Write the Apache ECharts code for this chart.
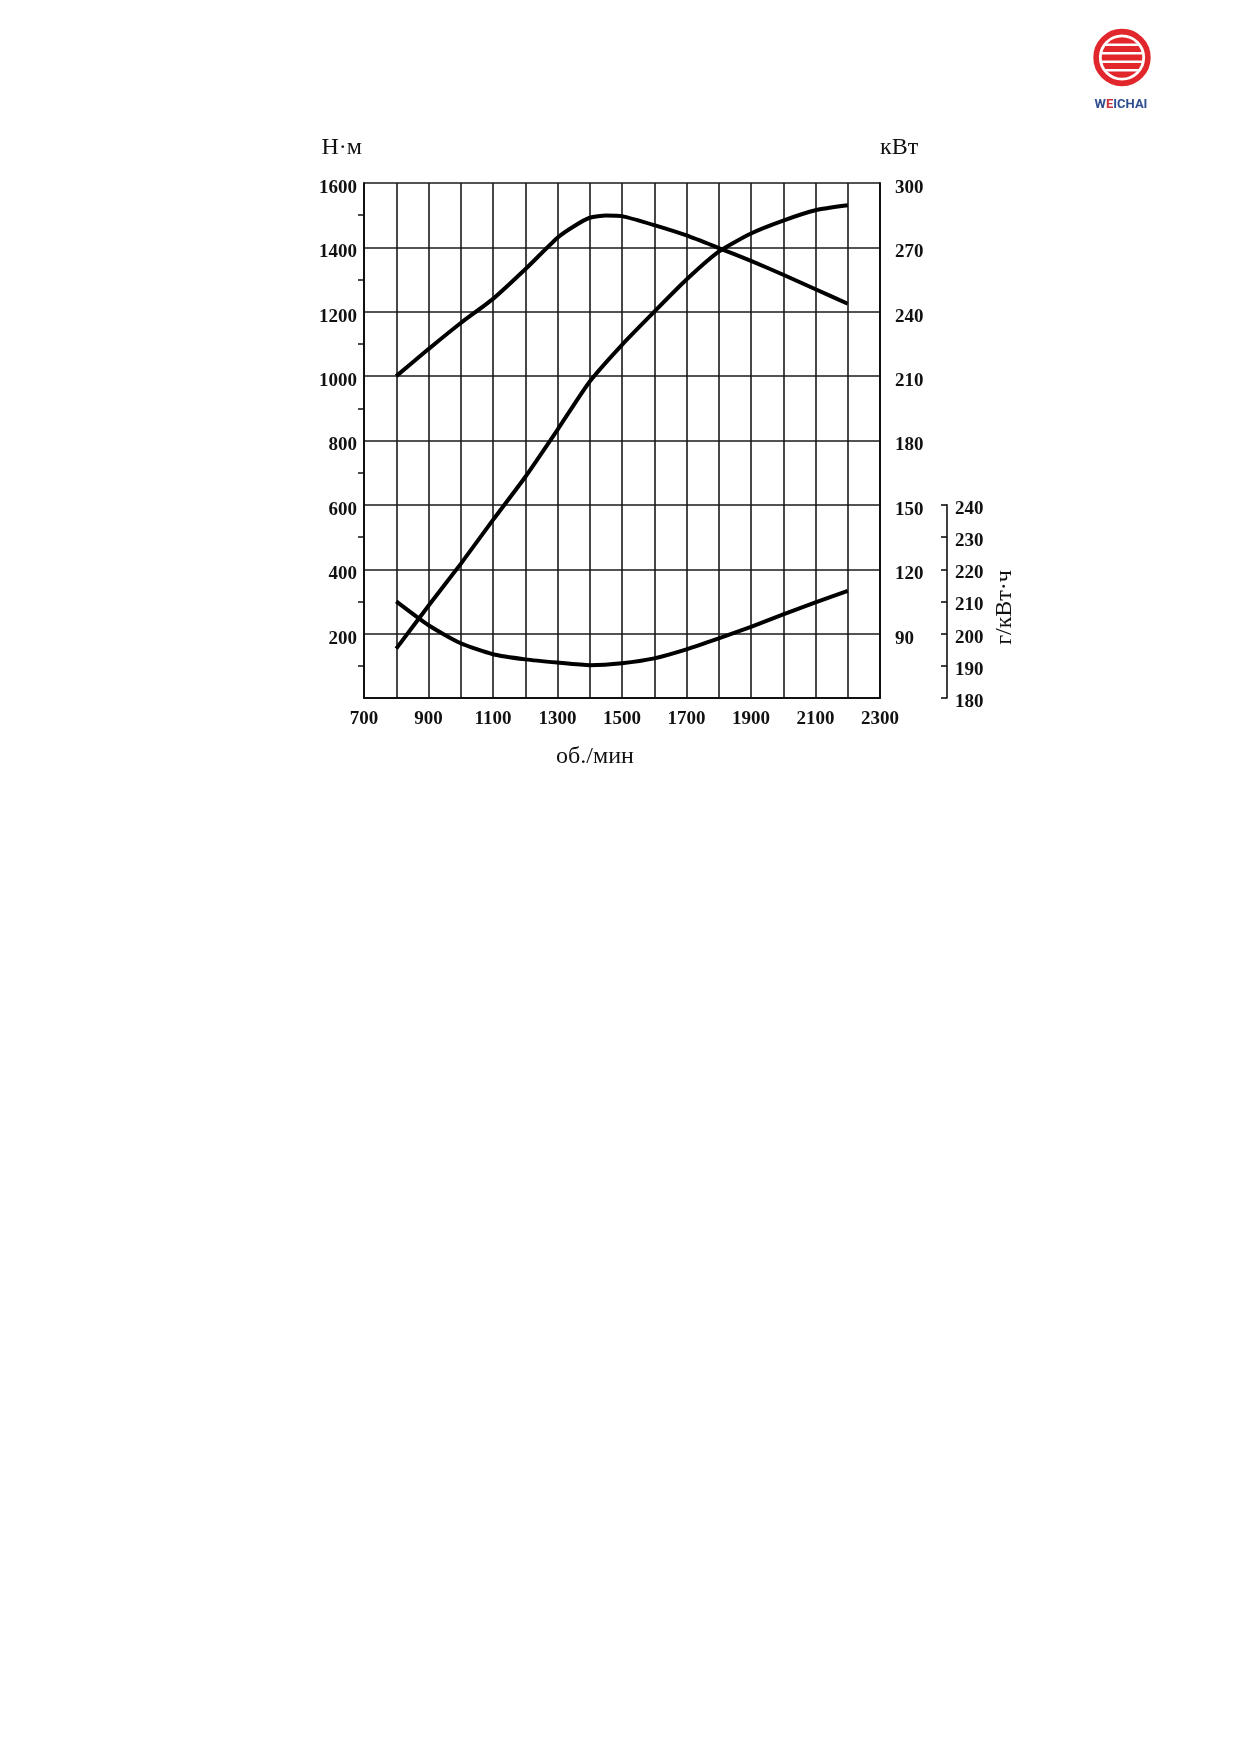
<!DOCTYPE html>
<html>
<head>
<meta charset="utf-8">
<script src="https://cdn.jsdelivr.net/npm/echarts@6/dist/echarts.min.js"></script>
<style>html,body{margin:0;padding:0;background:#fff}#c{width:1239px;height:1752px}</style>
</head>
<body>
<div id="c"></div>
<script>
// ---- data ----
const rpm = [800, 900, 1000, 1100, 1200, 1300, 1400, 1500, 1600, 1700, 1800, 1900, 2000, 2100, 2200];
const torqueRpm = [800, 900, 1000, 1100, 1200, 1300, 1350, 1400, 1450, 1500, 1600, 1700, 1800, 1900, 2000, 2100, 2200];
const torqueNm = [1000, 1084, 1165, 1240, 1332, 1430, 1465, 1492, 1499, 1497, 1469, 1437, 1398, 1358, 1315, 1270, 1225];
const powerKw = [83, 103, 122.5, 143, 163, 185, 207.5, 224.6, 240, 255, 268, 276.5, 282.5, 287.3, 289.6];
const bsfc = [210, 202.6, 197, 193.6, 192, 191, 190.2, 190.8, 192.3, 195.1, 198.5, 202.1, 206, 209.7, 213.3];

const xTickLabels = [700, 900, 1100, 1300, 1500, 1700, 1900, 2100, 2300];
const torqueTickLabels = [200, 400, 600, 800, 1000, 1200, 1400, 1600];
const powerTickLabels = [90, 120, 150, 180, 210, 240, 270, 300];
const bsfcTickLabels = [180, 190, 200, 210, 220, 230, 240];

const unitTorque = 'Н·м';
const unitPower = 'кВт';
const unitSpeed = 'об./мин';
const unitBsfc = 'г/кВт·ч';

// ---- chart ----
const chart = echarts.init(document.getElementById('c'), null, {renderer: 'canvas'});
const font = "'Liberation Serif', 'Times New Roman', serif";
const ink = '#111';
const lbl = {fontFamily: font, fontWeight: 'bold', fontSize: 19, color: ink};
const yLbl = Object.assign({}, lbl, {verticalAlign: 'top', lineHeight: 10});
const gridLine = {color: '#1a1a1a', width: 1.6};
const curve = {color: '#000', width: 4};
const nameStyle = {fontFamily: font, fontSize: 24, color: ink};

const red = '#e1262c';
const cx = 1122, cy = 57.5;
const stripes = [-12.8, -4.3, 4.3, 12.8].map(dy => ({
  type: 'rect', shape: {x: cx - 21, y: cy + dy - 1.3, width: 42, height: 2.6}, style: {fill: '#fff'}
}));

const option = {
  animation: false,
  backgroundColor: '#fff',
  grid: [
    {left: 364, right: 359, top: 183, bottom: 1054},
    {left: 364, right: 359, top: 504.9, bottom: 1054}
  ],
  xAxis: [
    {
      gridIndex: 0, type: 'value', min: 700, max: 2300, interval: 100,
      axisLine: {show: true, onZero: false, lineStyle: {color: ink, width: 2}},
      axisTick: {show: false},
      splitLine: {show: true, lineStyle: gridLine},
      axisLabel: Object.assign({}, lbl, {margin: 12, formatter: v => xTickLabels.includes(v) ? String(v) : ''}),
      name: unitSpeed, nameLocation: 'middle', nameGap: 47,
      nameTextStyle: Object.assign({}, nameStyle, {padding: [0, 54, 0, 0]})
    },
    {gridIndex: 1, type: 'value', min: 700, max: 2300, show: false}
  ],
  yAxis: [
    {
      gridIndex: 0, type: 'value', min: 0, max: 1600, interval: 200, position: 'left',
      axisLine: {show: true, onZero: false, lineStyle: {color: ink, width: 2}},
      axisTick: {show: false},
      minorTick: {show: true, splitNumber: 2, length: 6, lineStyle: {color: ink, width: 1.5}},
      splitLine: {show: true, lineStyle: gridLine},
      axisLabel: Object.assign({}, yLbl, {margin: 7, formatter: v => torqueTickLabels.includes(v) ? String(v) : ''}),
      name: unitTorque, nameLocation: 'end', nameGap: 23,
      nameTextStyle: Object.assign({}, nameStyle, {align: 'right', padding: [0, 2, 0, 0]})
    },
    {
      gridIndex: 0, type: 'value', min: 60, max: 300, interval: 30, position: 'right',
      axisLine: {show: true, onZero: false, lineStyle: {color: ink, width: 2}},
      axisTick: {show: false},
      splitLine: {show: false},
      axisLabel: Object.assign({}, yLbl, {margin: 15, formatter: v => powerTickLabels.includes(v) ? String(v) : ''}),
      name: unitPower, nameLocation: 'end', nameGap: 23,
      nameTextStyle: Object.assign({}, nameStyle, {align: 'left'})
    },
    {
      gridIndex: 1, type: 'value', min: 180, max: 240, interval: 10, position: 'right', offset: 67,
      axisLine: {show: true, onZero: false, lineStyle: {color: ink, width: 1.6}},
      axisTick: {show: true, inside: true, length: 6, lineStyle: {color: ink, width: 1.6}},
      splitLine: {show: false},
      axisLabel: Object.assign({}, yLbl, {margin: 8, lineHeight: 8, formatter: v => bsfcTickLabels.includes(v) ? String(v) : ''}),
      name: unitBsfc, nameLocation: 'middle', nameRotate: 90, nameGap: 46,
      nameTextStyle: Object.assign({}, nameStyle, {padding: [0, 12, 0, 0]})
    }
  ],
  series: [
    {type: 'line', xAxisIndex: 0, yAxisIndex: 0, showSymbol: false, smooth: 0.2,
     lineStyle: curve, data: torqueRpm.map((r, i) => [r, torqueNm[i]])},
    {type: 'line', xAxisIndex: 0, yAxisIndex: 1, showSymbol: false, smooth: 0.2,
     lineStyle: curve, data: rpm.map((r, i) => [r, powerKw[i]])},
    {type: 'line', xAxisIndex: 1, yAxisIndex: 2, showSymbol: false, smooth: 0.2,
     lineStyle: curve, data: rpm.map((r, i) => [r, bsfc[i]])}
  ],
  graphic: [
    {type: 'circle', shape: {cx: cx, cy: cy, r: 20.3}, style: {fill: red}},
    ...stripes,
    {type: 'circle', shape: {cx: cx, cy: cy, r: 25.9}, style: {fill: 'none', stroke: red, lineWidth: 5.6}},
    {type: 'text', style: {
      text: '{b|W}{r|E}{b|ICHAI}', x: cx - 1, y: 105, align: 'center', verticalAlign: 'middle',
      rich: {
        b: {fontFamily: 'Roboto, sans-serif', fontWeight: 'bold', fontSize: 13, fill: '#2f4f8f'},
        r: {fontFamily: 'Roboto, sans-serif', fontWeight: 'bold', fontSize: 13, fill: '#c8323a'}
      }
    }}
  ]
};
chart.setOption(option);
</script>
</body>
</html>
